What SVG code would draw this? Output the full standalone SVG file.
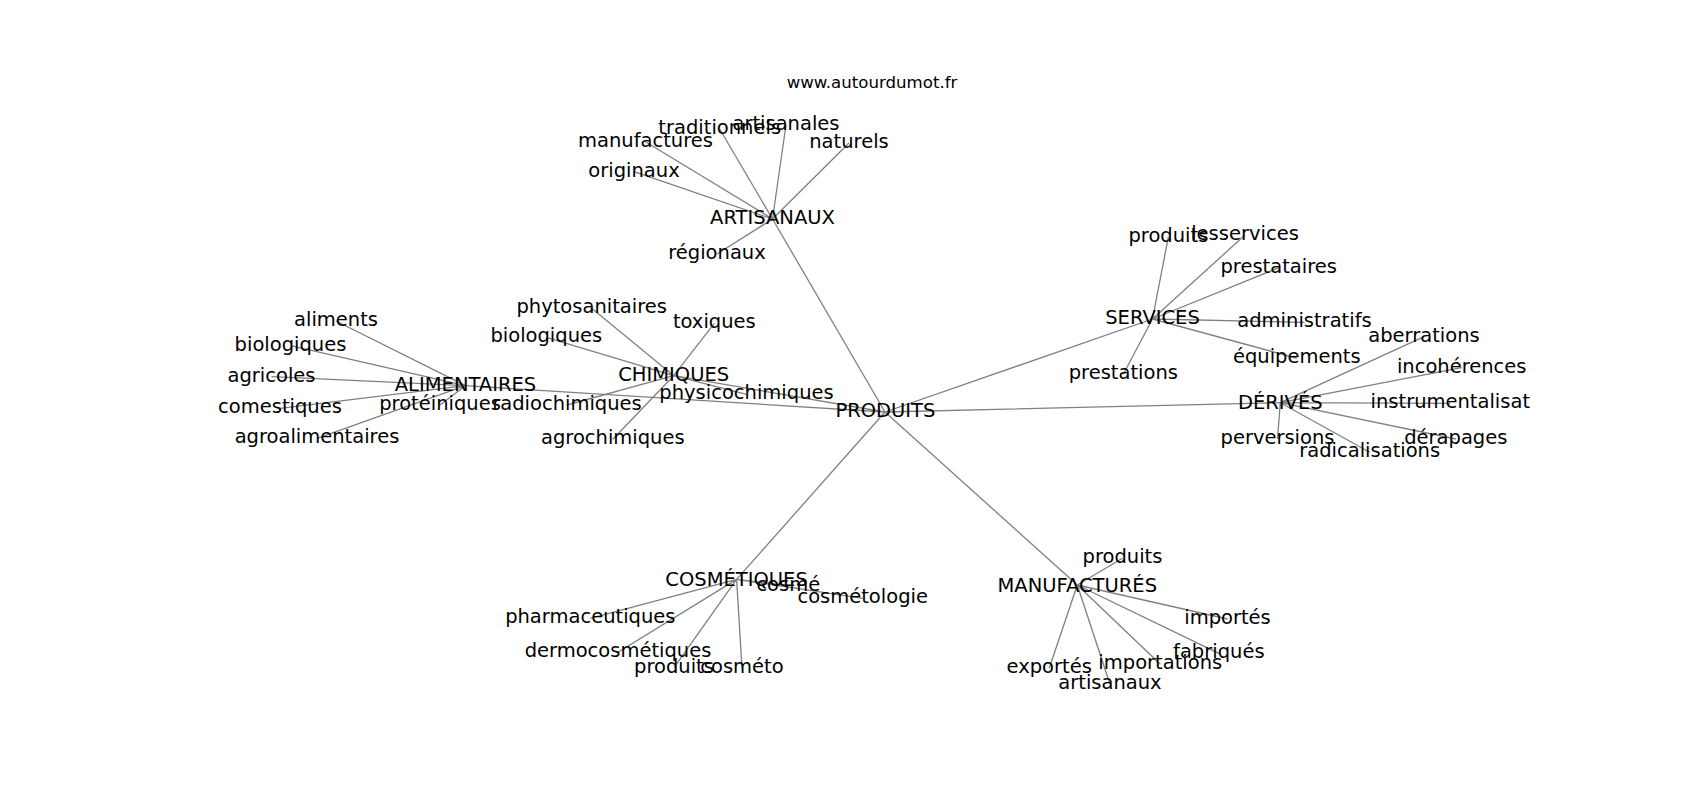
<svg xmlns="http://www.w3.org/2000/svg" width="1700" height="800" viewBox="0 0 1700 800">
<style>
.e{stroke:#808080;stroke-width:1.3;fill:none}
.t{font-family:"DejaVu Sans",sans-serif;font-size:19.5px;fill:#000;text-anchor:middle}
.u{font-family:"DejaVu Sans",sans-serif;font-size:16.6px;fill:#000;text-anchor:middle}
</style>
<rect width="1700" height="800" fill="#fff"/>
<g id="connectors">
<path class="e" d="M885,412L772.5,219M885,412L465.5,385.7M885,412L673.7,375.7M885,412L1152.5,319M885,412L1280.3,402.7M885,412L736.6,579.4M885,412L1077.3,585"/>
<path class="e" d="M772.5,219L719.7,129M772.5,219L786,125M772.5,219L645.5,141.7M772.5,219L849,143M772.5,219L634,171.7M772.5,219L717,254"/>
<path class="e" d="M465.5,385.7L336,321M465.5,385.7L290.5,345.7M465.5,385.7L271.5,376.7M465.5,385.7L280,408.3M465.5,385.7L440,405M465.5,385.7L317,438.3"/>
<path class="e" d="M673.7,375.7L591.7,308.3M673.7,375.7L714.3,323.3M673.7,375.7L546.3,337.3M673.7,375.7L746.5,394.3M673.7,375.7L567,405M673.7,375.7L612.8,439.3"/>
<path class="e" d="M1152.5,319L1168.4,236.7M1152.5,319L1245,235M1152.5,319L1278.7,267.7M1152.5,319L1304.5,322.3M1152.5,319L1296.8,358.3M1152.5,319L1123.3,374.3"/>
<path class="e" d="M1280.3,402.7L1424,336.7M1280.3,402.7L1461.7,367.7M1280.3,402.7L1450.3,403.3M1280.3,402.7L1455.8,439M1280.3,402.7L1277.5,439M1280.3,402.7L1369.7,452.3"/>
<path class="e" d="M736.6,579.4L788.3,585.7M736.6,579.4L862.7,598.3M736.6,579.4L590.3,618.3M736.6,579.4L618,652.3M736.6,579.4L674,667.7M736.6,579.4L742,667.7"/>
<path class="e" d="M1077.3,585L1122.5,558.3M1077.3,585L1227.5,619M1077.3,585L1218.8,653.3M1077.3,585L1160.3,664.3M1077.3,585L1049.2,668.3M1077.3,585L1110,684.3"/>
</g>
<g id="title"><text class="u" x="872" y="88">www.autourdumot.fr</text></g>
<g id="n-produits"><text class="t" x="885.4" y="417">PRODUITS</text></g>
<g id="n-artisanaux"><text class="t" x="772.5" y="224.3">ARTISANAUX</text></g>
<g id="n-traditionnels"><text class="t" x="719.7" y="134">traditionnels</text></g>
<g id="n-artisanales"><text class="t" x="786" y="130">artisanales</text></g>
<g id="n-manufactures"><text class="t" x="645.5" y="146.7">manufactures</text></g>
<g id="n-naturels"><text class="t" x="849" y="148.3">naturels</text></g>
<g id="n-originaux"><text class="t" x="634" y="176.7">originaux</text></g>
<g id="n-regionaux"><text class="t" x="717" y="259">régionaux</text></g>
<g id="n-alimentaires"><text class="t" x="465.5" y="390.7">ALIMENTAIRES</text></g>
<g id="n-aliments"><text class="t" x="336" y="326">aliments</text></g>
<g id="n-biologiques1"><text class="t" x="290.5" y="350.7">biologiques</text></g>
<g id="n-agricoles"><text class="t" x="271.5" y="381.7">agricoles</text></g>
<g id="n-comestiques"><text class="t" x="280" y="413.3">comestiques</text></g>
<g id="n-proteiniques"><text class="t" x="440" y="410">protéiniques</text></g>
<g id="n-agroalimentaires"><text class="t" x="317" y="443.3">agroalimentaires</text></g>
<g id="n-chimiques"><text class="t" x="673.7" y="380.7">CHIMIQUES</text></g>
<g id="n-phytosanitaires"><text class="t" x="591.7" y="313.3">phytosanitaires</text></g>
<g id="n-toxiques"><text class="t" x="714.3" y="328.3">toxiques</text></g>
<g id="n-biologiques2"><text class="t" x="546.3" y="342.3">biologiques</text></g>
<g id="n-physicochimiques"><text class="t" x="746.5" y="399.3">physicochimiques</text></g>
<g id="n-radiochimiques"><text class="t" x="567" y="410">radiochimiques</text></g>
<g id="n-agrochimiques"><text class="t" x="612.8" y="444.3">agrochimiques</text></g>
<g id="n-services"><text class="t" x="1152.5" y="324">SERVICES</text></g>
<g id="n-produits-s"><text class="t" x="1168.4" y="241.7">produits</text></g>
<g id="n-lesservices"><text class="t" x="1245" y="240">lesservices</text></g>
<g id="n-prestataires"><text class="t" x="1278.7" y="272.7">prestataires</text></g>
<g id="n-administratifs"><text class="t" x="1304.5" y="327.3">administratifs</text></g>
<g id="n-equipements"><text class="t" x="1296.8" y="363.3">équipements</text></g>
<g id="n-prestations"><text class="t" x="1123.3" y="379.3">prestations</text></g>
<g id="n-derives"><text class="t" x="1280.3" y="409">DÉRIVÉS</text></g>
<g id="n-aberrations"><text class="t" x="1424" y="341.7">aberrations</text></g>
<g id="n-incoherences"><text class="t" x="1461.7" y="372.7">incohérences</text></g>
<g id="n-instrumentalisat"><text class="t" x="1450.3" y="408.3">instrumentalisat</text></g>
<g id="n-derapages"><text class="t" x="1455.8" y="444">dérapages</text></g>
<g id="n-perversions"><text class="t" x="1277.5" y="444">perversions</text></g>
<g id="n-radicalisations"><text class="t" x="1369.7" y="457.3">radicalisations</text></g>
<g id="n-cosmetiques"><text class="t" x="736.6" y="586">COSMÉTIQUES</text></g>
<g id="n-cosme"><text class="t" x="788.3" y="590.7">cosmé</text></g>
<g id="n-cosmetologie"><text class="t" x="862.7" y="603.3">cosmétologie</text></g>
<g id="n-pharmaceutiques"><text class="t" x="590.3" y="623.3">pharmaceutiques</text></g>
<g id="n-dermocosmetiques"><text class="t" x="618" y="657.3">dermocosmétiques</text></g>
<g id="n-produits-c"><text class="t" x="674" y="672.7">produits</text></g>
<g id="n-cosmeto"><text class="t" x="742" y="672.7">cosméto</text></g>
<g id="n-manufactures-m"><text class="t" x="1077.3" y="591.7">MANUFACTURÉS</text></g>
<g id="n-produits-m"><text class="t" x="1122.5" y="563.3">produits</text></g>
<g id="n-importes"><text class="t" x="1227.5" y="624">importés</text></g>
<g id="n-fabriques"><text class="t" x="1218.8" y="658.3">fabriqués</text></g>
<g id="n-importations"><text class="t" x="1160.3" y="669.3">importations</text></g>
<g id="n-exportes"><text class="t" x="1049.2" y="673.3">exportés</text></g>
<g id="n-artisanaux-m"><text class="t" x="1110" y="689.3">artisanaux</text></g>
</svg>
